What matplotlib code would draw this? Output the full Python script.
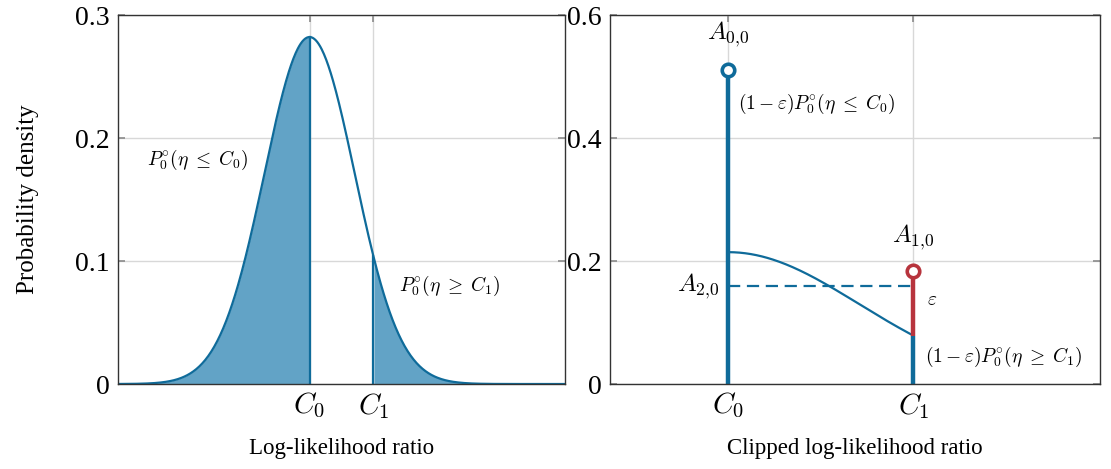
import numpy as np
import matplotlib
matplotlib.use("Agg")
import matplotlib.pyplot as plt

plt.rcParams['font.family'] = ['Liberation Serif', 'DejaVu Serif']
plt.rcParams['mathtext.fontset'] = 'cm'

# log-likelihood ratio under H0: normal with mean -1, variance 2
llr_mean = -1.0
llr_var = 2.0
c0 = -1.0
c1 = 1.0
x_range = [-7.0, 7.0]

# clipped version
clip_scale = 0.76          # (1 - eps) factor on the density between C0 and C1
a00 = 0.51                 # point mass at C0
a10 = 0.184                # point mass at C1
a20 = 0.159                # level of the dashed line

blue = '#0f6b9a'
fill_blue = '#62a3c6'
red = '#b7343d'
grid_gray = '#d8d8d8'
tick_gray = '#8a8a8a'


def density(x):
    return np.exp(-(x - llr_mean) ** 2 / (2 * llr_var)) / np.sqrt(2 * np.pi * llr_var)


def style_axes(ax):
    ax.grid(True, color=grid_gray, lw=1.0)
    ax.set_axisbelow(True)
    ax.tick_params(direction='in', length=5, width=1.2, color=tick_gray,
                   top=True, right=True, labelsize=20, pad=6)
    ax.tick_params(axis='x', labelsize=21, pad=5)
    for s in ax.spines.values():
        s.set_linewidth(1.0)
        s.set_color('#333333')


fig = plt.figure(figsize=(11.11, 4.69), dpi=100)
ax1 = fig.add_axes([0.1062, 0.1812, 0.4024, 0.7868])
ax2 = fig.add_axes([0.5491, 0.1812, 0.4410, 0.7868])

# left panel
x = np.linspace(x_range[0], x_range[1], 600)
y = density(x)
ax1.fill_between(x, 0, y, where=(x <= c0), color=fill_blue, lw=0)
ax1.fill_between(x, 0, y, where=(x >= c1), color=fill_blue, lw=0)
ax1.plot(x, y, color=blue, lw=1.6)
ax1.plot([c0, c0], [0, density(c0)], color=blue, lw=1.6)
ax1.plot([c1, c1], [0, density(c1)], color=blue, lw=1.6)
ax1.set_xlim(x_range)
ax1.set_ylim(0, 0.3)
ax1.set_xticks([c0, c1])
ax1.set_xticklabels([r'$C_0$', r'$C_1$'])
ax1.set_yticks([0, 0.1, 0.2, 0.3])
ax1.set_yticklabels(['0', '0.1', '0.2', '0.3'])
style_axes(ax1)
ax1.set_xlabel('Log-likelihood ratio', fontsize=16.5, labelpad=12)
ax1.set_ylabel('Probability density', fontsize=18, labelpad=26)
ax1.text(-6.1, 0.182, r'$P_0^{\circ}(\eta\;\leq\;C_0)$', fontsize=14, va='center')
ax1.text(1.8, 0.080, r'$P_0^{\circ}(\eta\;\geq\;C_1)$', fontsize=14, va='center')

# right panel
xc = np.linspace(c0, c1, 200)
ax2.plot(xc, clip_scale * density(xc), color=blue, lw=1.6)
ax2.plot([c0, c1], [a20, a20], color=blue, lw=1.6, ls=(0, (5.5, 3)))
ax2.plot([c0, c0], [0, a00], color=blue, lw=3.2, solid_capstyle='butt')
ax2.plot([c1, c1], [0, clip_scale * density(c1)], color=blue, lw=3.2, solid_capstyle='butt')
ax2.plot([c1, c1], [clip_scale * density(c1), a10], color=red, lw=3.2, solid_capstyle='butt')
ax2.plot([c0], [a00], 'o', ms=9, mfc='white', mec=blue, mew=2.6, zorder=5)
ax2.plot([c1], [a10], 'o', ms=9, mfc='white', mec=red, mew=2.6, zorder=5)
ax2.set_xlim(-2.28, 3.02)
ax2.set_ylim(0, 0.6)
ax2.set_xticks([c0, c1])
ax2.set_xticklabels([r'$C_0$', r'$C_1$'])
ax2.set_yticks([0, 0.2, 0.4, 0.6])
ax2.set_yticklabels(['0', '0.2', '0.4', '0.6'])
style_axes(ax2)
ax2.set_xlabel('Clipped log-likelihood ratio', fontsize=16.5, labelpad=12)
ax2.text(c0, a00 + 0.035, r'$A_{0{,}0}$', fontsize=18, ha='center', va='bottom')
ax2.text(c0 + 0.1, 0.455, r'$(1-\varepsilon)P_0^{\circ}(\eta\;\leq\;C_0)$', fontsize=14, va='center')
ax2.text(c1, a10 + 0.03, r'$A_{1{,}0}$', fontsize=18, ha='center', va='bottom')
ax2.text(c0 - 0.1, a20, r'$A_{2{,}0}$', fontsize=18, ha='right', va='center')
ax2.text(c1 + 0.15, 0.135, r'$\varepsilon$', fontsize=14, va='center')
ax2.text(c1 + 0.13, 0.044, r'$(1-\varepsilon)P_0^{\circ}(\eta\;\geq\;C_1)$', fontsize=14, va='center')

fig.savefig('out.png', dpi=100)
